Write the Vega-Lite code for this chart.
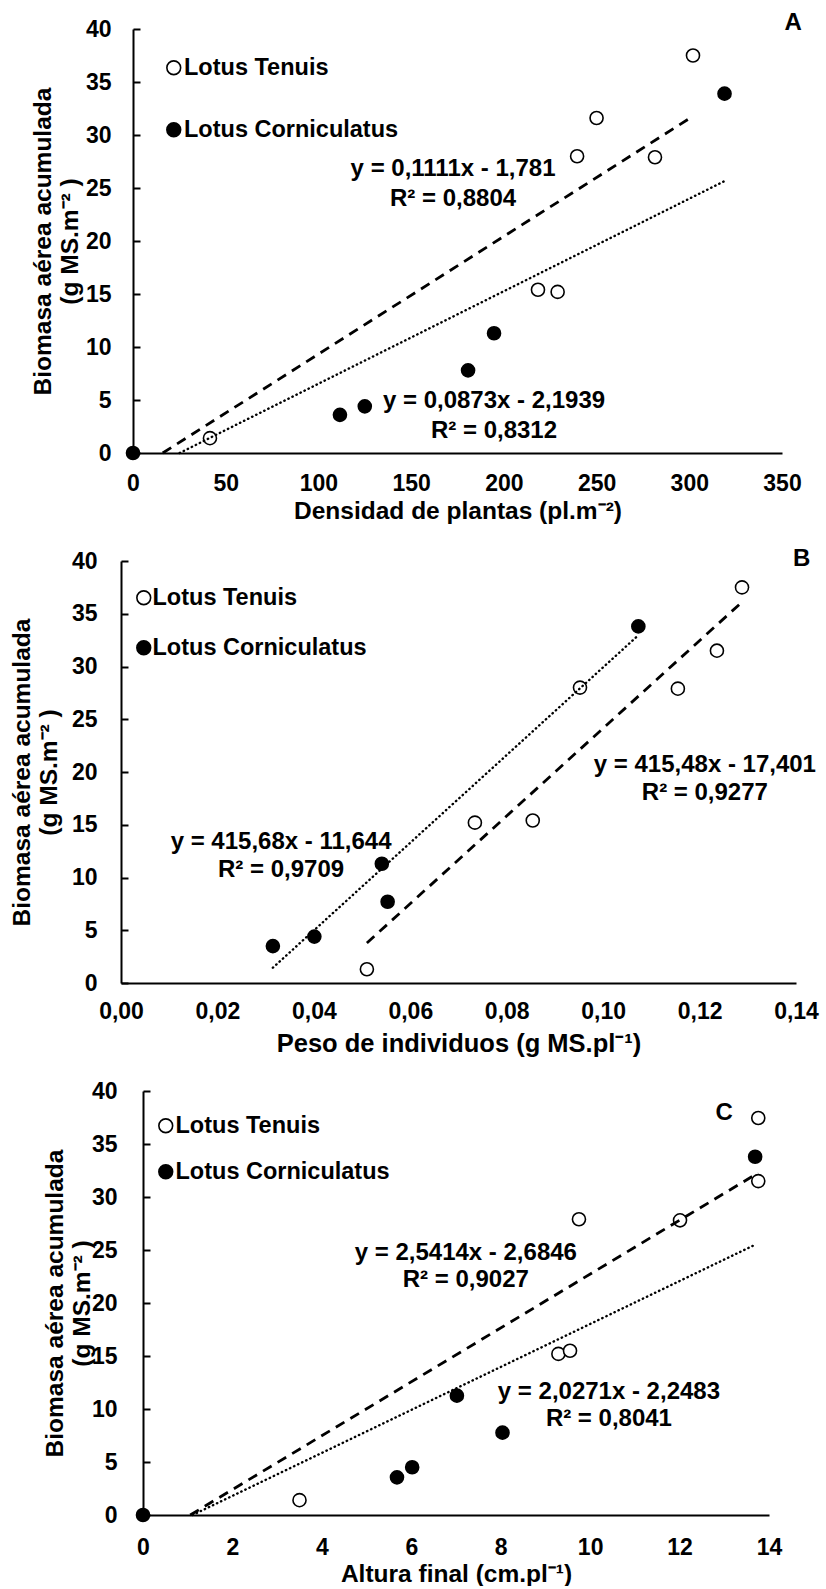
{
  "$schema": "https://vega.github.io/schema/vega-lite/v6.json",
  "padding": {"left": 9, "top": 10, "right": 5, "bottom": 0},
  "background": "white",
  "config": {
    "font": "Liberation Sans",
    "view": {"stroke": null},
    "locale": {"number": {"decimal": ",", "thousands": ".", "grouping": [3], "currency": ["", ""]}},
    "axis": {
      "grid": false, "domainColor": "black", "domainWidth": 2,
      "labelFont": "Liberation Sans", "labelFontSize": 23, "labelFontWeight": "bold", "labelColor": "black",
      "titleFont": "Liberation Sans", "titleFontWeight": "bold", "titleColor": "black",
      "tickColor": "black", "tickWidth": 2, "labelFlush": false, "labelOverlap": false
    },
    "axisX": {"ticks": false, "labelPadding": 19, "titlePadding": 4, "titleFontSize": 25},
    "axisY": {"tickSize": -7, "labelPadding": 30, "titlePadding": 4, "titleLineHeight": 27, "titleFontSize": 24.5},
    "legend": {
      "orient": "none", "title": null, "padding": 0, "labelLimit": 500,
      "labelFont": "Liberation Sans", "labelFontSize": 23.5, "labelFontWeight": "bold", "labelColor": "black",
      "symbolType": "circle", "symbolSize": 190, "symbolStrokeColor": "black", "symbolStrokeWidth": 1.6, "labelOffset": -2
    }
  },
  "datasets": {
    "ptsA": [
      {"species": "Lotus Corniculatus", "x": 0, "y": 0},
      {"species": "Lotus Corniculatus", "x": 111.6, "y": 3.6},
      {"species": "Lotus Corniculatus", "x": 125, "y": 4.4},
      {"species": "Lotus Corniculatus", "x": 180.7, "y": 7.8},
      {"species": "Lotus Corniculatus", "x": 194.7, "y": 11.3},
      {"species": "Lotus Corniculatus", "x": 319, "y": 33.9},
      {"species": "Lotus Tenuis", "x": 41.5, "y": 1.4},
      {"species": "Lotus Tenuis", "x": 218.4, "y": 15.4},
      {"species": "Lotus Tenuis", "x": 229, "y": 15.2},
      {"species": "Lotus Tenuis", "x": 239.5, "y": 28.0},
      {"species": "Lotus Tenuis", "x": 250, "y": 31.6},
      {"species": "Lotus Tenuis", "x": 281.5, "y": 27.9},
      {"species": "Lotus Tenuis", "x": 302, "y": 37.5}
    ],
    "fitA_T": [{"x": 16.03, "y": 0}, {"x": 302, "y": 31.77}],
    "fitA_C": [{"x": 25.13, "y": 0}, {"x": 319, "y": 25.65}],
    "labA": [
      {"x": 172.6, "y": 26.8, "text": "y = 0,1111x - 1,781\nR² = 0,8804"},
      {"x": 194.7, "y": 4.9, "text": "y = 0,0873x - 2,1939\nR² = 0,8312"},
      {"x": 356, "y": 40.57, "text": "A"}
    ],
    "ptsB": [
      {"species": "Lotus Corniculatus", "x": 0.0315, "y": 3.5},
      {"species": "Lotus Corniculatus", "x": 0.0401, "y": 4.4},
      {"species": "Lotus Corniculatus", "x": 0.0541, "y": 11.3},
      {"species": "Lotus Corniculatus", "x": 0.0553, "y": 7.7},
      {"species": "Lotus Corniculatus", "x": 0.1073, "y": 33.8},
      {"species": "Lotus Tenuis", "x": 0.0510, "y": 1.3},
      {"species": "Lotus Tenuis", "x": 0.0734, "y": 15.2},
      {"species": "Lotus Tenuis", "x": 0.0854, "y": 15.4},
      {"species": "Lotus Tenuis", "x": 0.0952, "y": 28.0},
      {"species": "Lotus Tenuis", "x": 0.1155, "y": 27.9},
      {"species": "Lotus Tenuis", "x": 0.1236, "y": 31.5},
      {"species": "Lotus Tenuis", "x": 0.1288, "y": 37.5}
    ],
    "fitB_T": [{"x": 0.0510, "y": 3.79}, {"x": 0.1288, "y": 36.11}],
    "fitB_C": [{"x": 0.0315, "y": 1.45}, {"x": 0.1073, "y": 32.96}],
    "labB": [
      {"x": 0.0332, "y": 13.36, "text": "y = 415,68x - 11,644\nR² = 0,9709"},
      {"x": 0.1211, "y": 20.66, "text": "y = 415,48x - 17,401\nR² = 0,9277"},
      {"x": 0.1412, "y": 40.2, "text": "B"}
    ],
    "ptsC": [
      {"species": "Lotus Corniculatus", "x": 0, "y": 0},
      {"species": "Lotus Corniculatus", "x": 5.68, "y": 3.55},
      {"species": "Lotus Corniculatus", "x": 6.02, "y": 4.5},
      {"species": "Lotus Corniculatus", "x": 7.02, "y": 11.26},
      {"species": "Lotus Corniculatus", "x": 8.04, "y": 7.77},
      {"species": "Lotus Corniculatus", "x": 13.69, "y": 33.8},
      {"species": "Lotus Tenuis", "x": 3.5, "y": 1.4},
      {"species": "Lotus Tenuis", "x": 9.29, "y": 15.2},
      {"species": "Lotus Tenuis", "x": 9.55, "y": 15.5},
      {"species": "Lotus Tenuis", "x": 9.75, "y": 27.9},
      {"species": "Lotus Tenuis", "x": 12.01, "y": 27.8},
      {"species": "Lotus Tenuis", "x": 13.76, "y": 31.5},
      {"species": "Lotus Tenuis", "x": 13.76, "y": 37.45}
    ],
    "fitC_T": [{"x": 1.056, "y": 0}, {"x": 13.76, "y": 32.28}],
    "fitC_C": [{"x": 1.109, "y": 0}, {"x": 13.69, "y": 25.5}],
    "labC": [
      {"x": 7.22, "y": 24.72, "text": "y = 2,5414x - 2,6846\nR² = 0,9027"},
      {"x": 10.42, "y": 11.6, "text": "y = 2,0271x - 2,2483\nR² = 0,8041"},
      {"x": 13.0, "y": 37.9, "text": "C"}
    ]
  },
  "spacing": 23,
  "resolve": {
    "scale": {"x": "independent", "y": "independent", "fill": "independent"},
    "axis": {"x": "independent", "y": "independent"},
    "legend": {"fill": "independent"}
  },
  "vconcat": [
    {
      "width": 661, "height": 424,
      "encoding": {
        "x": {"field": "x", "type": "quantitative", "scale": {"domain": [0, 350], "nice": false, "range": [12, 661]},
              "axis": {"values": [0, 50, 100, 150, 200, 250, 300, 350], "title": "Densidad de plantas (pl.m⁻²)", "titleFontSize": 24.5, "titlePadding": 4}},
        "y": {"field": "y", "type": "quantitative", "scale": {"domain": [0, 40], "nice": false},
              "axis": {"values": [0, 5, 10, 15, 20, 25, 30, 35, 40], "offset": -12, "labelPadding": 29, "titlePadding": 3, "title": ["Biomasa aérea acumulada", "(g MS.m⁻² )"]}}
      },
      "layer": [
        {
          "data": {"name": "ptsA"},
          "mark": {"type": "point", "shape": "circle", "filled": true, "size": 170, "stroke": "black", "strokeWidth": 1.6, "opacity": 1},
          "encoding": {
            "fill": {"field": "species", "type": "nominal",
                     "scale": {"domain": ["Lotus Tenuis", "Lotus Corniculatus"], "range": ["white", "black"]},
                     "legend": {"legendX": 41, "legendY": 27, "rowPadding": 37, "labelOffset": -1.5}}
          }
        },
        {"data": {"name": "fitA_T"}, "mark": {"type": "line", "color": "black", "strokeWidth": 2.8, "strokeDash": [10, 7]}},
        {"data": {"name": "fitA_C"}, "mark": {"type": "line", "color": "black", "strokeWidth": 2.4, "strokeCap": "round", "strokeDash": [0.4, 4.1]}},
        {"data": {"name": "labA"}, "mark": {"type": "text", "fontSize": 24, "fontWeight": "bold", "font": "Liberation Sans", "color": "black", "lineBreak": "\n", "lineHeight": 30, "align": "center", "baseline": "middle"},
         "encoding": {"text": {"field": "text"}}}
      ]
    },
    {
      "width": 675, "height": 422,
      "encoding": {
        "x": {"field": "x", "type": "quantitative", "scale": {"domain": [0, 0.14], "nice": false},
              "axis": {"values": [0, 0.02, 0.04, 0.06, 0.08, 0.1, 0.12, 0.14], "format": ".2f", "labelPadding": 17.5, "titlePadding": 7.5, "titleFontSize": 25.5, "title": "Peso de individuos (g MS.pl⁻¹)"}},
        "y": {"field": "y", "type": "quantitative", "scale": {"domain": [0, 40], "nice": false},
              "axis": {"values": [0, 5, 10, 15, 20, 25, 30, 35, 40], "labelPadding": 31, "titlePadding": 10, "title": ["Biomasa aérea acumulada", "(g MS.m⁻² )"]}}
      },
      "layer": [
        {
          "data": {"name": "ptsB"},
          "mark": {"type": "point", "shape": "circle", "filled": true, "size": 170, "stroke": "black", "strokeWidth": 1.6, "opacity": 1},
          "encoding": {
            "fill": {"field": "species", "type": "nominal",
                     "scale": {"domain": ["Lotus Tenuis", "Lotus Corniculatus"], "range": ["white", "black"]},
                     "legend": {"legendX": 11, "legendY": 25, "rowPadding": 25, "labelOffset": -3}}
          }
        },
        {"data": {"name": "fitB_T"}, "mark": {"type": "line", "color": "black", "strokeWidth": 2.8, "strokeDash": [10, 7]}},
        {"data": {"name": "fitB_C"}, "mark": {"type": "line", "color": "black", "strokeWidth": 2.4, "strokeCap": "round", "strokeDash": [0.4, 4.1]}},
        {"data": {"name": "labB"}, "mark": {"type": "text", "fontSize": 24, "fontWeight": "bold", "font": "Liberation Sans", "color": "black", "lineBreak": "\n", "lineHeight": 28, "align": "center", "baseline": "middle"},
         "encoding": {"text": {"field": "text"}}}
      ]
    },
    {
      "width": 648, "height": 424,
      "encoding": {
        "x": {"field": "x", "type": "quantitative", "scale": {"domain": [0, 14], "nice": false, "range": [22, 648]},
              "axis": {"values": [0, 2, 4, 6, 8, 10, 12, 14], "labelPadding": 21, "titlePadding": 3, "titleFontSize": 24.5, "title": "Altura final (cm.pl⁻¹)"}},
        "y": {"field": "y", "type": "quantitative", "scale": {"domain": [0, 40], "nice": false},
              "axis": {"values": [0, 5, 10, 15, 20, 25, 30, 35, 40], "offset": -22, "labelPadding": 33, "titlePadding": -3, "title": ["Biomasa aérea acumulada", "(g MS.m⁻² )"]}}
      },
      "layer": [
        {
          "data": {"name": "ptsC"},
          "mark": {"type": "point", "shape": "circle", "filled": true, "size": 170, "stroke": "black", "strokeWidth": 1.6, "opacity": 1},
          "encoding": {
            "fill": {"field": "species", "type": "nominal",
                     "scale": {"domain": ["Lotus Tenuis", "Lotus Corniculatus"], "range": ["white", "black"]},
                     "legend": {"legendX": 33, "legendY": 23, "rowPadding": 21, "labelOffset": -2}}
          }
        },
        {"data": {"name": "fitC_T"}, "mark": {"type": "line", "color": "black", "strokeWidth": 2.8, "strokeDash": [10, 7]}},
        {"data": {"name": "fitC_C"}, "mark": {"type": "line", "color": "black", "strokeWidth": 2.4, "strokeCap": "round", "strokeDash": [0.4, 4.1]}},
        {"data": {"name": "labC"}, "mark": {"type": "text", "fontSize": 24, "fontWeight": "bold", "font": "Liberation Sans", "color": "black", "lineBreak": "\n", "lineHeight": 27, "align": "center", "baseline": "middle"},
         "encoding": {"text": {"field": "text"}}}
      ]
    }
  ]
}
